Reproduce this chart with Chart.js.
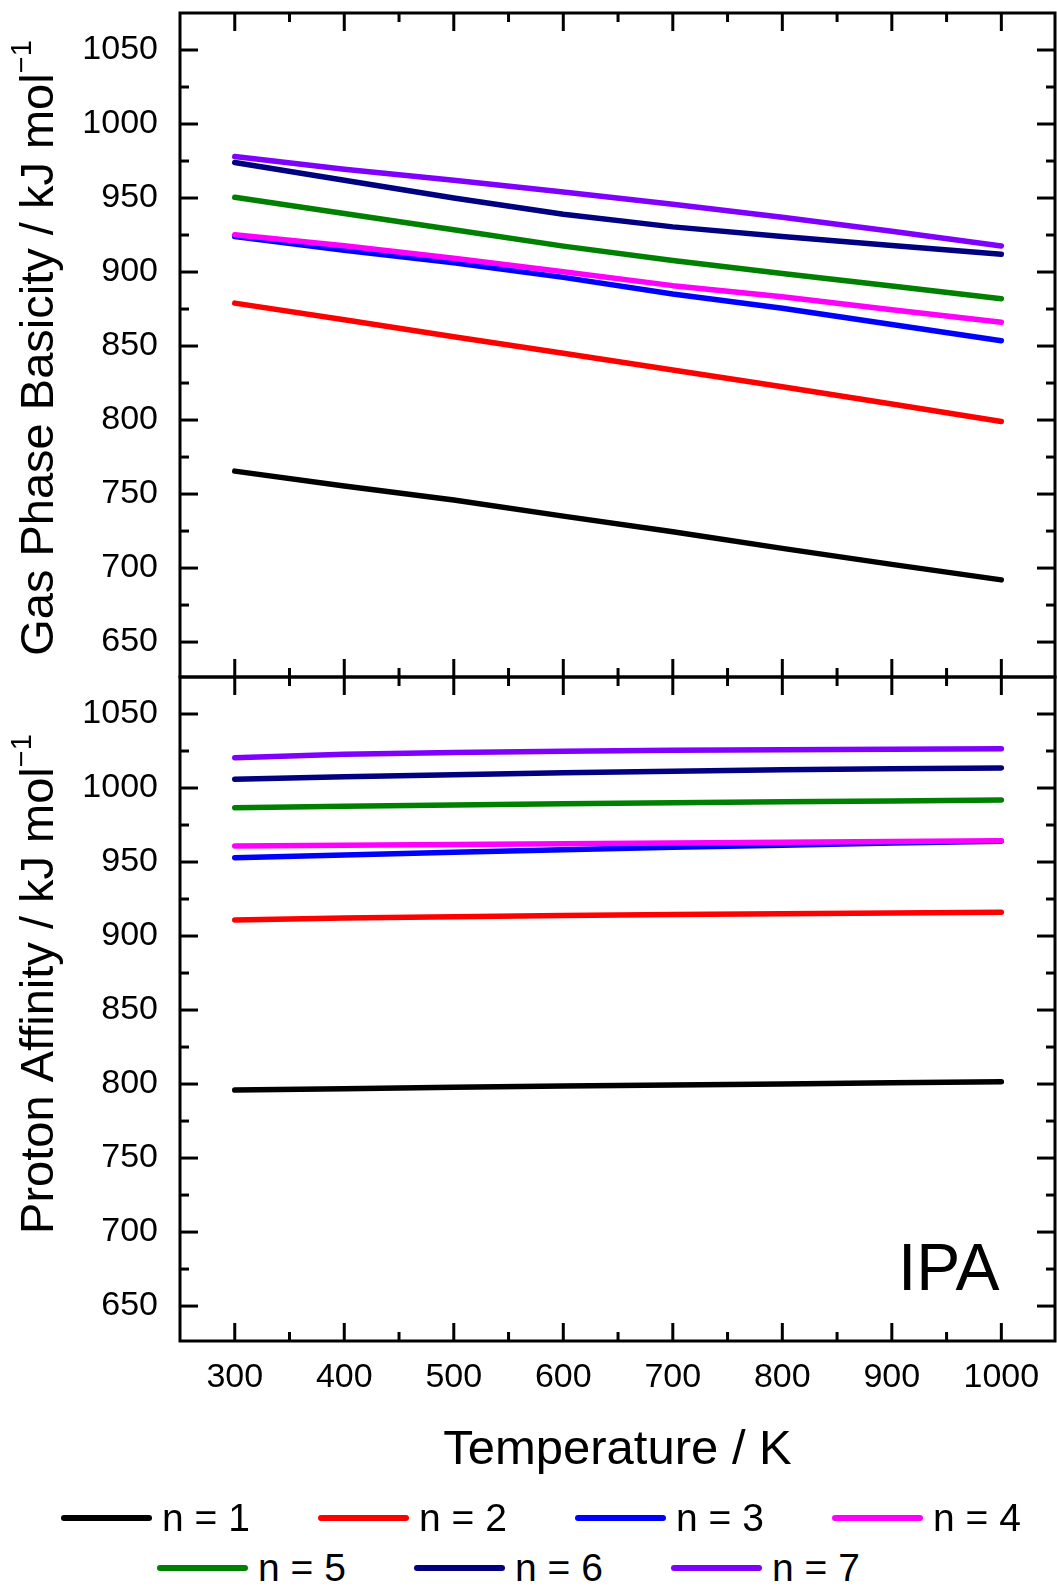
<!DOCTYPE html>
<html>
<head>
<meta charset="utf-8">
<script src="https://cdn.jsdelivr.net/npm/chart.js@4.4.1/dist/chart.umd.min.js"></script>
<style>
  html, body { margin: 0; padding: 0; background: #fff; }
  #wrap { position: relative; width: 1057px; height: 1589px; overflow: hidden; background: #fff; }
  #wrap canvas { position: absolute; left: 0; }
  #gpb { top: 0; }
  #pa { top: 660px; }
  .leg { position: absolute; height: 40px; display: flex; align-items: center;
         font-family: 'Liberation Sans', Arial, sans-serif; font-size: 39px; color: #000; white-space: nowrap; }
  .leg i { display: inline-block; width: 91px; height: 6px; border-radius: 3px; margin-right: 10px; }
</style>
</head>
<body>
<div id="wrap">
  <canvas id="gpb" width="1057" height="700"></canvas>
  <canvas id="pa" width="1057" height="840"></canvas>
</div>
<script>
// Temperatures (K)
const temperatureK = [300, 400, 500, 600, 700, 800, 900, 1000];

// Cluster sizes and their line colours
const seriesNames = ['n = 1', 'n = 2', 'n = 3', 'n = 4', 'n = 5', 'n = 6', 'n = 7'];
const seriesColors = ['#000000', '#ff0000', '#0000ff', '#ff00ff', '#008000', '#000080', '#8000ff'];

// Gas phase basicity (kJ/mol)
const gpbN1 = [765.5, 755.5, 746.0, 735.1, 724.5, 713.3, 702.5, 692.0];
const gpbN2 = [879.0, 867.8, 856.3, 845.1, 833.8, 822.5, 810.8, 799.0];
const gpbN3 = [924.0, 914.7, 906.3, 896.4, 885.1, 875.5, 864.5, 853.6];
const gpbN4 = [925.2, 917.7, 909.3, 900.2, 890.8, 883.3, 874.5, 866.0];
const gpbN5 = [950.5, 939.5, 928.5, 917.5, 907.8, 899.0, 890.5, 882.0];
const gpbN6 = [974.0, 962.0, 950.0, 939.0, 930.5, 924.0, 918.0, 912.0];
const gpbN7 = [978.0, 969.5, 962.0, 954.0, 945.8, 937.0, 927.5, 917.6];

// Proton affinity (kJ/mol)
const paN1 = [795.9, 796.9, 797.8, 798.6, 799.4, 800.1, 800.9, 801.6];
const paN2 = [910.8, 912.1, 913.0, 913.8, 914.5, 915.1, 915.6, 916.1];
const paN3 = [952.9, 954.8, 956.6, 958.3, 959.9, 961.4, 962.8, 964.1];
const paN4 = [960.8, 961.3, 961.9, 962.4, 962.9, 963.4, 963.9, 964.4];
const paN5 = [986.7, 987.6, 988.5, 989.3, 990.0, 990.7, 991.3, 991.9];
const paN6 = [1005.9, 1007.6, 1009.0, 1010.3, 1011.4, 1012.3, 1013.0, 1013.6];
const paN7 = [1020.5, 1022.8, 1024.0, 1024.9, 1025.5, 1025.9, 1026.2, 1026.5];

// Axis ticks
const xMajorTicks = [300, 400, 500, 600, 700, 800, 900, 1000];
const xMinorTicks = [350, 450, 550, 650, 750, 850, 950];
const yMajorTicks = [650, 700, 750, 800, 850, 900, 950, 1000, 1050];
const yMinorTicks = [675, 725, 775, 825, 875, 925, 975, 1025];

const gpbSeries = [gpbN1, gpbN2, gpbN3, gpbN4, gpbN5, gpbN6, gpbN7];
const paSeries = [paN1, paN2, paN3, paN4, paN5, paN6, paN7];

const FONT = "'Liberation Sans', Arial, sans-serif";
const X_MIN = 250, X_MAX = 1049, Y_MIN = 626.4, Y_MAX = 1075;

function makeDatasets(series) {
  return series.map((vals, i) => ({
    label: seriesNames[i],
    data: vals.map((v, k) => ({ x: temperatureK[k], y: v })),
    borderColor: seriesColors[i],
    backgroundColor: seriesColors[i],
    borderWidth: 5.5,
    borderCapStyle: 'round',
    borderJoinStyle: 'round',
    pointRadius: 0,
    tension: 0,
    order: series.length - i   // later clusters drawn on top
  }));
}

// Frame with inward major/minor ticks on all four sides
const frameTicks = {
  id: 'frameTicks',
  afterDraw(chart) {
    const { ctx, chartArea: a, scales: { x, y } } = chart;
    ctx.save();
    ctx.strokeStyle = '#000';
    ctx.lineWidth = 3;
    ctx.lineCap = 'butt';
    ctx.strokeRect(a.left, a.top, a.right - a.left, a.bottom - a.top);
    const seg = (x1, y1, x2, y2) => { ctx.beginPath(); ctx.moveTo(x1, y1); ctx.lineTo(x2, y2); ctx.stroke(); };
    const xt = (vals, len) => vals.forEach(v => {
      const p = x.getPixelForValue(v);
      seg(p, a.bottom, p, a.bottom - len);
      seg(p, a.top, p, a.top + len);
    });
    const yt = (vals, len) => vals.forEach(v => {
      const p = y.getPixelForValue(v);
      seg(a.left, p, a.left + len, p);
      seg(a.right, p, a.right - len, p);
    });
    xt(xMajorTicks, 18); xt(xMinorTicks, 9);
    yt(yMajorTicks, 18); yt(yMinorTicks, 9);
    ctx.restore();
  }
};

// Rotated axis title with a superscript "−1"
function drawYTitle(ctx, cx, cy, main, sup, size) {
  ctx.save();
  ctx.fillStyle = '#000';
  ctx.font = size + 'px ' + FONT;
  const w1 = ctx.measureText(main).width;
  const supSize = Math.round(size * 0.62);
  ctx.font = supSize + 'px ' + FONT;
  const w2 = ctx.measureText(sup).width;
  const total = w1 + w2;
  ctx.translate(cx, cy);
  ctx.rotate(-Math.PI / 2);
  ctx.textBaseline = 'middle';
  ctx.textAlign = 'left';
  ctx.font = size + 'px ' + FONT;
  ctx.fillText(main, -total / 2, 0);
  ctx.font = supSize + 'px ' + FONT;
  ctx.fillText(sup, -total / 2 + w1, -size * 0.36);
  ctx.restore();
}

function noEdgePadding(s) {
  s.paddingTop = 0; s.paddingBottom = 0; s.paddingLeft = 0; s.paddingRight = 0;
}

function scalesFor(showX) {
  return {
    x: {
      type: 'linear', min: X_MIN, max: X_MAX, display: showX,
      grid: { display: false, drawTicks: false }, border: { display: false },
      afterBuildTicks: s => { s.ticks = xMajorTicks.map(v => ({ value: v })); },
      afterFit: s => { if (showX) s.height = 159; noEdgePadding(s); },
      ticks: { autoSkip: false, maxRotation: 0, padding: 16, color: '#000',
               font: { family: FONT, size: 34 }, callback: v => String(v) }
    },
    y: {
      type: 'linear', min: Y_MIN, max: Y_MAX,
      grid: { display: false, drawTicks: false }, border: { display: false },
      afterBuildTicks: s => { s.ticks = yMajorTicks.map(v => ({ value: v })); },
      afterFit: s => { s.width = 180; noEdgePadding(s); },
      ticks: { autoSkip: false, padding: 22, color: '#000',
               font: { family: FONT, size: 34 }, callback: v => String(v) }
    }
  };
}

const common = {
  responsive: false,
  animation: false,
  devicePixelRatio: 1,
  plugins: { legend: { display: false }, tooltip: { enabled: false } }
};

new Chart(document.getElementById('gpb'), {
  type: 'line',
  data: { datasets: makeDatasets(gpbSeries) },
  options: Object.assign({}, common, {
    layout: { padding: { top: 13, right: 2, bottom: 23, left: 0 } },
    scales: scalesFor(false)
  }),
  plugins: [frameTicks, {
    id: 'gpbTitle',
    afterDraw(chart) {
      drawYTitle(chart.ctx, 40, 348, 'Gas Phase Basicity / kJ mol', '\u22121', 47);
    }
  }]
});

new Chart(document.getElementById('pa'), {
  type: 'line',
  data: { datasets: makeDatasets(paSeries) },
  options: Object.assign({}, common, {
    layout: { padding: { top: 17, right: 2, bottom: 0, left: 0 } },
    scales: scalesFor(true)
  }),
  plugins: [frameTicks, {
    id: 'paTitles',
    afterDraw(chart) {
      const ctx = chart.ctx, a = chart.chartArea;
      drawYTitle(ctx, 40, 324, 'Proton Affinity / kJ mol', '\u22121', 47);
      ctx.save();
      ctx.fillStyle = '#000';
      ctx.textBaseline = 'alphabetic';
      ctx.textAlign = 'center';
      ctx.font = '49px ' + FONT;
      ctx.fillText('Temperature / K', (a.left + a.right) / 2, 804);
      ctx.textAlign = 'left';
      ctx.font = '66px ' + FONT;
      ctx.fillText('IPA', 898, 630);
      ctx.restore();
    }
  }]
});

// Legend, two rows, built from the series names and colours
const wrap = document.getElementById('wrap');
const rowStarts = [61, 157], rowCenters = [1518, 1568], pitch = 257;
seriesNames.forEach((name, i) => {
  const row = i < 4 ? 0 : 1;
  const col = row === 0 ? i : i - 4;
  const d = document.createElement('div');
  d.className = 'leg';
  d.style.left = (rowStarts[row] + col * pitch) + 'px';
  d.style.top = (rowCenters[row] - 20) + 'px';
  const sw = document.createElement('i');
  sw.style.background = seriesColors[i];
  d.appendChild(sw);
  d.appendChild(document.createTextNode(name));
  wrap.appendChild(d);
});
</script>
</body>
</html>
